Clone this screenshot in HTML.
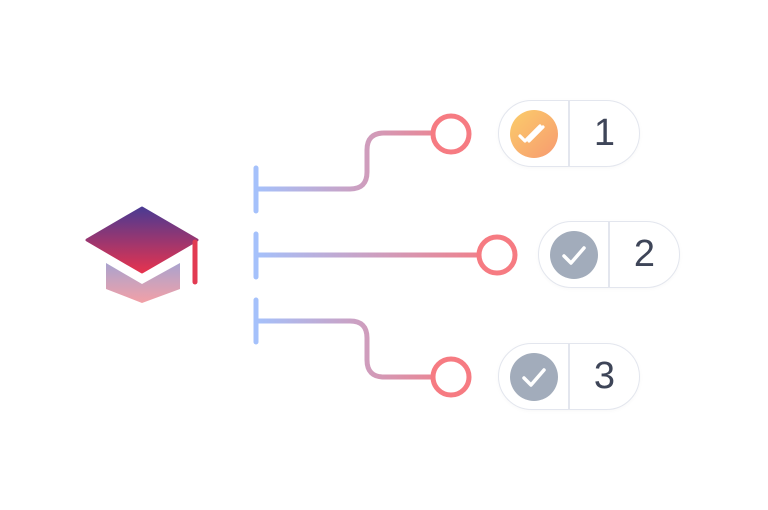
<!DOCTYPE html>
<html><head><meta charset="utf-8"><style>
html,body{margin:0;padding:0;background:#fff;}
.pill{position:absolute;height:67px;width:142px;border:1.5px solid #e3e6ee;border-radius:34px;background:#fff;box-sizing:border-box;box-shadow:0 1px 4px rgba(0,0,0,0.03);}
.pill .div{position:absolute;left:69px;top:0;bottom:0;width:1.5px;background:#e3e6ee;}
.pill .num{position:absolute;left:71px;right:0;top:0;bottom:0;display:flex;align-items:center;justify-content:center;font-family:"Liberation Sans",sans-serif;font-size:38px;color:#3e4558;}
.pill svg{position:absolute;left:10px;top:8px;}
</style></head><body>
<div style="position:relative;width:768px;height:510px;overflow:hidden">
<svg width="768" height="510" style="position:absolute;left:0;top:0">
<defs>
<linearGradient id="cap" x1="0" y1="0" x2="0" y2="1"><stop offset="0" stop-color="#4c3a92"/><stop offset="1" stop-color="#e5334f"/></linearGradient>
<linearGradient id="base" x1="0" y1="0" x2="0" y2="1"><stop offset="0" stop-color="#a9a3cf"/><stop offset="1" stop-color="#f3a0a6"/></linearGradient>
<linearGradient id="ln" gradientUnits="userSpaceOnUse" x1="256" y1="0" x2="470" y2="0"><stop offset="0" stop-color="#a5c1fb"/><stop offset="1" stop-color="#f67b82"/></linearGradient>
<linearGradient id="ln2" gradientUnits="userSpaceOnUse" x1="256" y1="0" x2="500" y2="0"><stop offset="0" stop-color="#a5c1fb"/><stop offset="1" stop-color="#f67b82"/></linearGradient>
</defs>
<path d="M142 208 L197 240 L142 272 L87 240 Z" fill="url(#cap)" stroke="url(#cap)" stroke-width="3" stroke-linejoin="round"/>
<path d="M195 242 V282" stroke="#e23a52" stroke-width="5" stroke-linecap="round"/>
<path d="M106 263 L142 284 L180 263 V289 L142 303 L106 289 Z" fill="url(#base)"/>
<g stroke-width="5" stroke-linecap="round" fill="none">
<path d="M256 168 V211 M256 234 V277 M256 300 V342" stroke="#a5c1fb"/>
<path d="M256 189 H350 Q367 189 367 172 V150 Q367 133 384 133 H432" stroke="url(#ln)"/>
<path d="M256 255 H478" stroke="url(#ln2)"/>
<path d="M256 321 H350 Q367 321 367 338 V360 Q367 377 384 377 H432" stroke="url(#ln)"/>
</g>
<g fill="#fff" stroke="#f67b82" stroke-width="5">
<circle cx="451" cy="134" r="18"/><circle cx="497" cy="255" r="18"/><circle cx="451" cy="377" r="18"/>
</g>
</svg>
<div class="pill" style="left:498px;top:100px">
<svg width="50" height="50"><defs><linearGradient id="og" x1="0" y1="0" x2="1" y2="1"><stop offset="0" stop-color="#fbcd6a"/><stop offset="1" stop-color="#f79a70"/></linearGradient></defs><circle cx="25" cy="25" r="24" fill="url(#og)"/><path d="M11 27 L16 32 L26 22 M20 32 L34 18 M24 24 L31 17" stroke="#fff" stroke-width="3.2" fill="none" stroke-linecap="round" stroke-linejoin="round"/></svg>
<div class="div"></div><div class="num">1</div></div>
<div class="pill" style="left:538px;top:221px">
<svg width="50" height="50"><circle cx="25" cy="25" r="24" fill="#a2acbb"/><path d="M15 26 L22 33 L35 18" stroke="#fff" stroke-width="3.5" fill="none" stroke-linecap="round" stroke-linejoin="round"/></svg>
<div class="div"></div><div class="num">2</div></div>
<div class="pill" style="left:498px;top:343px">
<svg width="50" height="50"><circle cx="25" cy="25" r="24" fill="#a2acbb"/><path d="M15 26 L22 33 L35 18" stroke="#fff" stroke-width="3.5" fill="none" stroke-linecap="round" stroke-linejoin="round"/></svg>
<div class="div"></div><div class="num">3</div></div>
</div>
</body></html>
